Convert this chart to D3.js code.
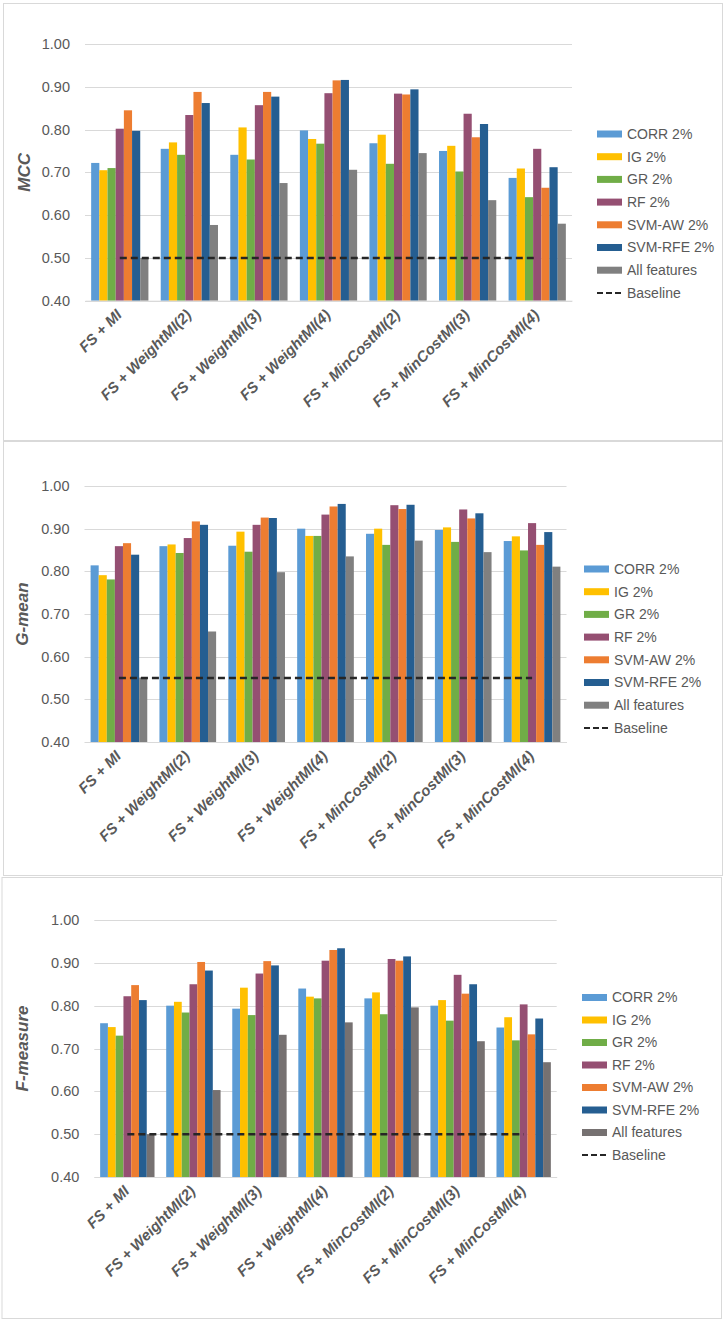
<!DOCTYPE html>
<html><head><meta charset="utf-8">
<script src="https://cdn.jsdelivr.net/npm/d3@7/dist/d3.min.js"></script>
<style>body{margin:0;background:#fff}svg{display:block}text{font-family:"Liberation Sans",Arial,sans-serif}</style>
</head><body><svg id="c" width="725" height="1322"></svg>
<script>
const categories = ["FS + MI","FS + WeightMI(2)","FS + WeightMI(3)","FS + WeightMI(4)","FS + MinCostMI(2)","FS + MinCostMI(3)","FS + MinCostMI(4)"];
const seriesNames = ["CORR 2%","IG 2%","GR 2%","RF 2%","SVM-AW 2%","SVM-RFE 2%","All features"];
const yTicks = [0.40,0.50,0.60,0.70,0.80,0.90,1.00];

// MCC
const mccCORR   = [0.722,0.755,0.741,0.798,0.768,0.750,0.687];
const mccIG     = [0.705,0.770,0.805,0.778,0.788,0.762,0.709];
const mccGR     = [0.710,0.741,0.730,0.767,0.720,0.702,0.642];
const mccRF     = [0.802,0.834,0.857,0.885,0.884,0.837,0.755];
const mccSVMAW  = [0.845,0.888,0.888,0.915,0.882,0.782,0.664];
const mccSVMRFE = [0.797,0.862,0.877,0.916,0.894,0.813,0.712];
const mccAll    = [0.500,0.577,0.675,0.706,0.745,0.635,0.580];
const mccBaseline = 0.50;

// G-mean
const gmCORR   = [0.814,0.859,0.860,0.900,0.888,0.897,0.871];
const gmIG     = [0.791,0.863,0.893,0.883,0.900,0.903,0.882];
const gmGR     = [0.781,0.843,0.846,0.883,0.862,0.869,0.849];
const gmRF     = [0.859,0.878,0.909,0.933,0.955,0.945,0.913];
const gmSVMAW  = [0.866,0.917,0.926,0.952,0.946,0.924,0.862];
const gmSVMRFE = [0.839,0.909,0.925,0.958,0.956,0.936,0.892];
const gmAll    = [0.551,0.659,0.798,0.835,0.872,0.845,0.811];
const gmBaseline = 0.55;

// F-measure
const fmCORR   = [0.759,0.800,0.793,0.840,0.817,0.800,0.749];
const fmIG     = [0.750,0.809,0.842,0.821,0.831,0.813,0.773];
const fmGR     = [0.730,0.784,0.778,0.817,0.780,0.765,0.719];
const fmRF     = [0.822,0.850,0.875,0.905,0.909,0.872,0.803];
const fmSVMAW  = [0.848,0.902,0.904,0.930,0.905,0.828,0.733];
const fmSVMRFE = [0.813,0.882,0.894,0.934,0.915,0.850,0.770];
const fmAll    = [0.500,0.603,0.732,0.761,0.796,0.717,0.668];
const fmBaseline = 0.50;

const colors = ["#5B9BD5","#FFC000","#70AD47","#954F72","#ED7D31","#255E91","#808080"];

const svg = d3.select("#c");
const textCol = "#595959";

const panels = [
  {title:"MCC", series:[mccCORR,mccIG,mccGR,mccRF,mccSVMAW,mccSVMRFE,mccAll], base:mccBaseline,
   box:[3,3,719,437], x:[85,572], y:[300.7,44], leg:{x:597,y:134,dy:22.7}, titleX:24, grayCol:"#808080"},
  {title:"G-mean", series:[gmCORR,gmIG,gmGR,gmRF,gmSVMAW,gmSVMRFE,gmAll], base:gmBaseline,
   box:[3,441,719,434], x:[84.5,566.5], y:[742,486], leg:{x:584,y:569,dy:22.7}, titleX:22, grayCol:"#808080"},
  {title:"F-measure", series:[fmCORR,fmIG,fmGR,fmRF,fmSVMAW,fmSVMRFE,fmAll], base:fmBaseline,
   box:[1.5,877,719.5,441], x:[94.3,556.7], y:[1177,920], leg:{x:582,y:997.5,dy:22.5}, titleX:22, grayCol:"#767171"}
];

panels.forEach(p => {
  const g = svg.append("g");
  g.append("rect").attr("x",p.box[0]+0.5).attr("y",p.box[1]+0.5).attr("width",p.box[2]).attr("height",p.box[3])
    .attr("fill","#fff").attr("stroke","#d9d9d9").attr("stroke-width",1);

  const x0 = d3.scaleBand().domain(categories).range(p.x).paddingInner(0.177).paddingOuter(0.0885);
  const x1 = d3.scaleBand().domain(seriesNames).range([0, x0.bandwidth()]);
  const y = d3.scaleLinear().domain([0.4,1.0]).range(p.y);

  g.append("g").selectAll("line").data(yTicks).join("line")
    .attr("x1",p.x[0]).attr("x2",p.x[1])
    .attr("y1",d=>Math.round(y(d))+0.5).attr("y2",d=>Math.round(y(d))+0.5)
    .attr("stroke","#d9d9d9").attr("stroke-width",1);

  const yAxis = d3.axisLeft(y).tickValues(yTicks).tickFormat(d3.format(".2f")).tickSize(0).tickPadding(15);
  const ya = g.append("g").attr("transform",`translate(${p.x[0]},0)`).call(yAxis);
  ya.select(".domain").remove();
  ya.selectAll("text").attr("fill",textCol).style("font-size","14.5px").style("font-family","'Liberation Sans',Arial,sans-serif");

  seriesNames.forEach((s,si) => {
    const col = si===6 ? p.grayCol : colors[si];
    g.append("g").selectAll("rect").data(p.series[si]).join("rect")
      .attr("x",(d,i)=>x0(categories[i])+x1(s))
      .attr("width",x1.bandwidth())
      .attr("y",d=>y(d))
      .attr("height",d=>y(0.4)-y(d))
      .attr("fill",col);
  });

  const line = d3.line().x(c=>x0(c)+x0.bandwidth()/2).y(()=>y(p.base));
  g.append("path").attr("d",line(categories)).attr("fill","none")
    .attr("stroke","#262626").attr("stroke-width",2.5).attr("stroke-dasharray","7,4");

  const xa = g.append("g").attr("transform",`translate(0,${y(0.4)})`)
    .call(d3.axisBottom(x0).tickSize(0).tickPadding(0));
  xa.select(".domain").attr("stroke","#d9d9d9");
  xa.selectAll("text")
    .attr("text-anchor","end")
    .attr("dy","0")
    .attr("transform","translate(3,15) rotate(-45)")
    .attr("fill",textCol)
    .style("font-size","15px").style("font-weight","bold").style("font-style","italic")
    .style("font-family","'Liberation Sans',Arial,sans-serif");

  g.append("text").attr("transform",`translate(${p.titleX},${(p.y[0]+p.y[1])/2}) rotate(-90)`)
    .attr("text-anchor","middle").attr("dy","0.35em")
    .attr("fill",textCol).style("font-size","17px").style("font-weight","bold").style("font-style","italic")
    .text(p.title);

  const legNames = seriesNames.concat(["Baseline"]);
  const lg = g.append("g");
  legNames.forEach((n,i) => {
    const cy = p.leg.y + i*p.leg.dy;
    if (i<7) {
      lg.append("rect").attr("x",p.leg.x).attr("y",cy-3.5).attr("width",25).attr("height",7)
        .attr("fill", i===6 ? p.grayCol : colors[i]);
    } else {
      lg.append("line").attr("x1",p.leg.x).attr("x2",p.leg.x+25).attr("y1",cy).attr("y2",cy)
        .attr("stroke","#262626").attr("stroke-width",2).attr("stroke-dasharray","6,3");
    }
    lg.append("text").attr("x",p.leg.x+30).attr("y",cy).attr("dy","0.35em")
      .attr("fill",textCol).style("font-size","14px").text(n);
  });
});
</script></body></html>
